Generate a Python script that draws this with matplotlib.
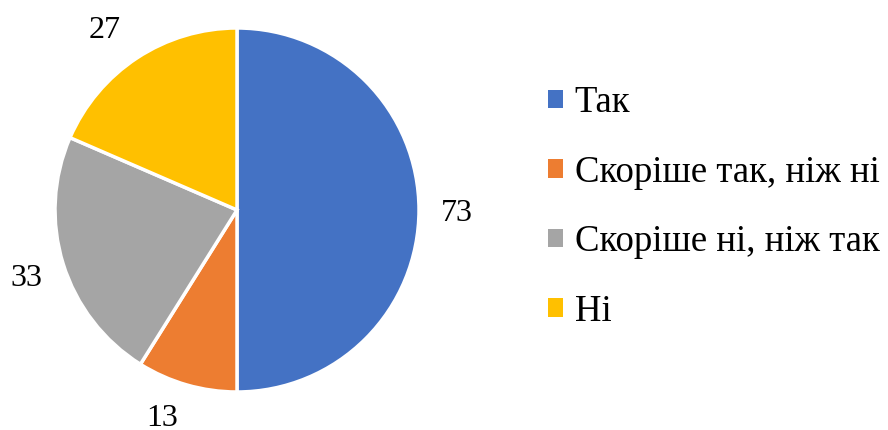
import numpy as np
import matplotlib.pyplot as plt
from matplotlib.patches import Patch

# dane
kategorie = ["Так", "Скоріше так, ніж ні", "Скоріше ні, ніж так", "Ні"]
wartosci = [73, 13, 33, 27]
kolory = ["#4472C4", "#ED7D31", "#A5A5A5", "#FFC000"]

plt.rcParams['font.family'] = ['Liberation Serif', 'DejaVu Serif']

fig = plt.figure(figsize=(8.88, 4.3), dpi=100)
ax = fig.add_axes([0.0619, 0.0884, 0.41, 0.8465])

wedges, _ = ax.pie(wartosci, colors=kolory, startangle=90, counterclock=False,
                   wedgeprops=dict(edgecolor='white', linewidth=2.5))

# etykiety z wartosciami (lekko przesuniete jak w Excelu)
przesuniecie = [0, -4, 0, 2.5]
odleglosc = [1.21, 1.2, 1.21, 1.24]
for w, v, dk, r in zip(wedges, wartosci, przesuniecie, odleglosc):
    kat = np.deg2rad((w.theta1 + w.theta2) / 2 + dk)
    ax.text(r * np.cos(kat), r * np.sin(kat), str(v), fontsize=23,
            ha='center', va='center_baseline')

ax.set_xlim(-1, 1)
ax.set_ylim(-1, 1)
ax.set_aspect('equal')

# legenda
uchwyty = [Patch(facecolor=k, edgecolor='none') for k in kolory]
fig.legend(uchwyty, kategorie, loc='center left', bbox_to_anchor=(0.617, 0.518),
           frameon=False, fontsize=26.5, handlelength=0.4, handleheight=0.4,
           handletextpad=0.33, labelspacing=0.95, borderpad=0, borderaxespad=0)

fig.savefig("out.png", dpi=100)
